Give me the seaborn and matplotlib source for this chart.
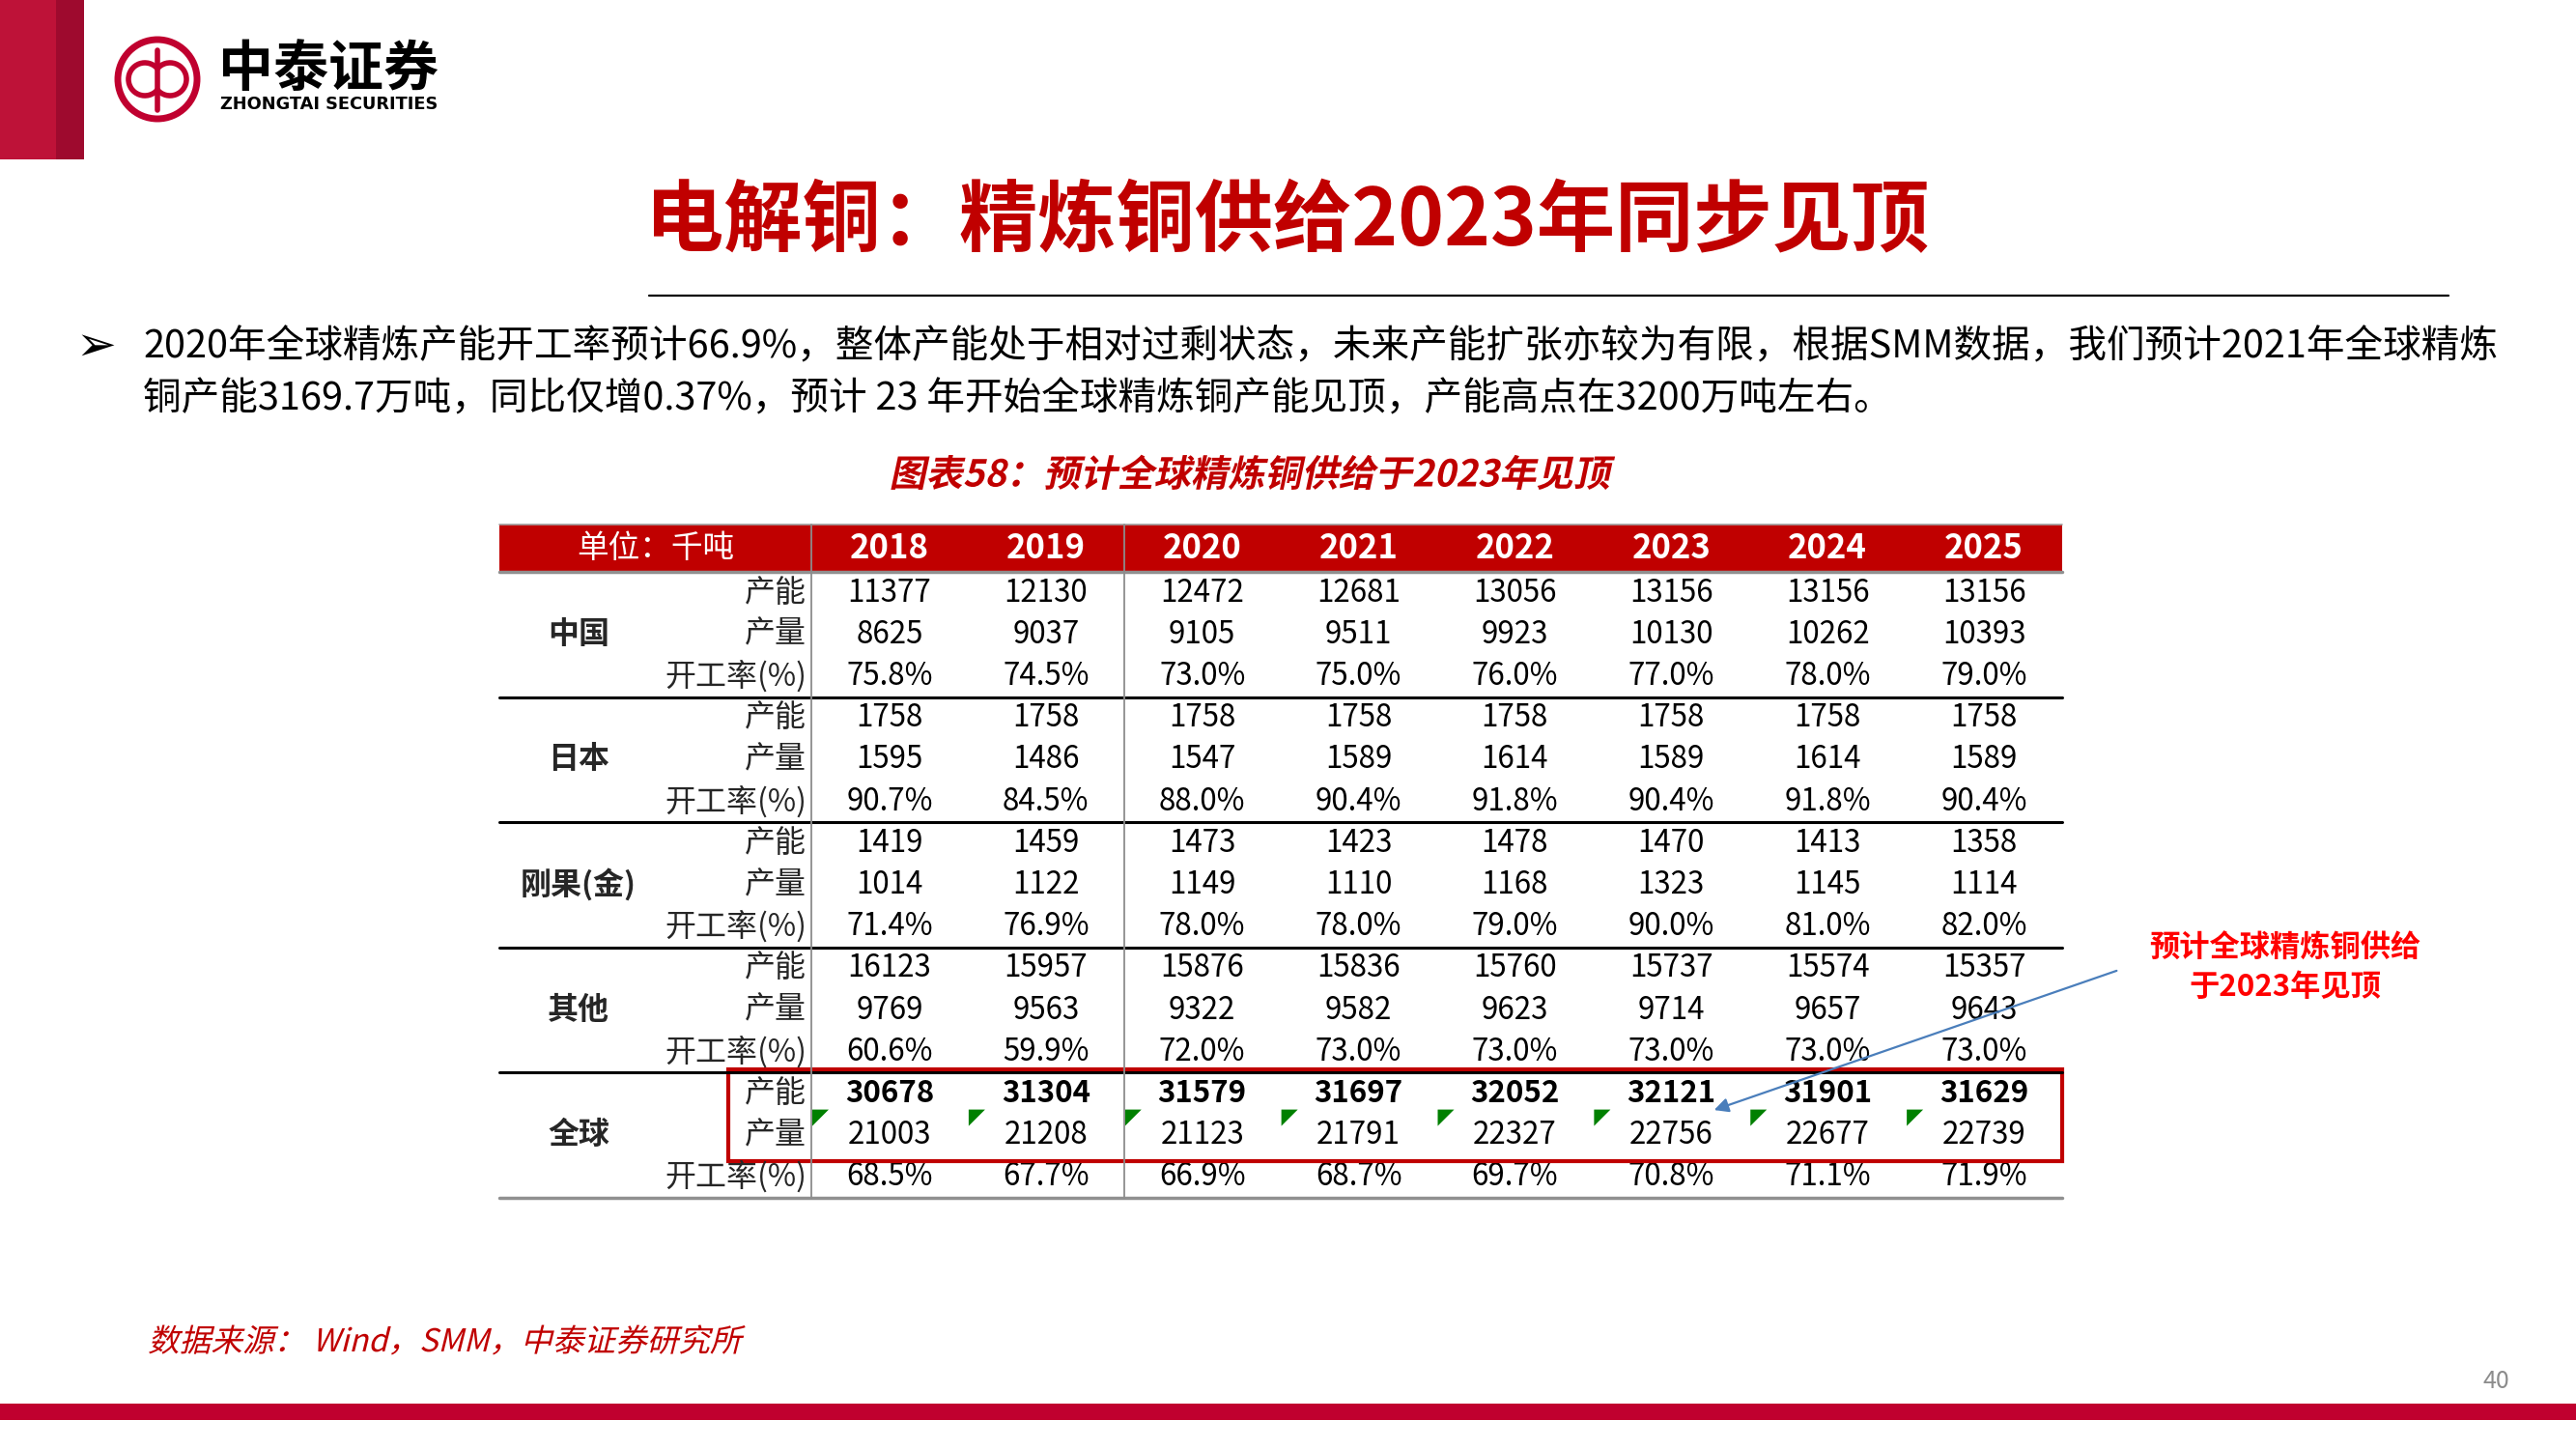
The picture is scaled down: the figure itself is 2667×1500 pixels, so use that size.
import matplotlib
matplotlib.use("Agg")
import matplotlib.pyplot as plt
from matplotlib.colors import ListedColormap
from matplotlib.patches import Rectangle, Polygon, Circle, Arc
from matplotlib.transforms import Affine2D
import matplotlib.patheffects as pe
import numpy as np
import pandas as pd
import seaborn as sns

# ---- data ----
years = ["2018", "2019", "2020", "2021", "2022", "2023", "2024", "2025"]
regions = ["中国", "日本", "刚果(金)", "其他", "全球"]
metrics = ["产能", "产量", "开工率(%)"]

china_cap = [11377, 12130, 12472, 12681, 13056, 13156, 13156, 13156]
china_out = [8625, 9037, 9105, 9511, 9923, 10130, 10262, 10393]
china_rate = [75.8, 74.5, 73.0, 75.0, 76.0, 77.0, 78.0, 79.0]

japan_cap = [1758, 1758, 1758, 1758, 1758, 1758, 1758, 1758]
japan_out = [1595, 1486, 1547, 1589, 1614, 1589, 1614, 1589]
japan_rate = [90.7, 84.5, 88.0, 90.4, 91.8, 90.4, 91.8, 90.4]

congo_cap = [1419, 1459, 1473, 1423, 1478, 1470, 1413, 1358]
congo_out = [1014, 1122, 1149, 1110, 1168, 1323, 1145, 1114]
congo_rate = [71.4, 76.9, 78.0, 78.0, 79.0, 90.0, 81.0, 82.0]

other_cap = [16123, 15957, 15876, 15836, 15760, 15737, 15574, 15357]
other_out = [9769, 9563, 9322, 9582, 9623, 9714, 9657, 9643]
other_rate = [60.6, 59.9, 72.0, 73.0, 73.0, 73.0, 73.0, 73.0]

world_cap = [30678, 31304, 31579, 31697, 32052, 32121, 31901, 31629]
world_out = [21003, 21208, 21123, 21791, 22327, 22756, 22677, 22739]
world_rate = [68.5, 67.7, 66.9, 68.7, 69.7, 70.8, 71.1, 71.9]

title = "电解铜：精炼铜供给2023年同步见顶"
bullet_1 = "2020年全球精炼产能开工率预计66.9%，整体产能处于相对过剩状态，未来产能扩张亦较为有限，根据SMM数据，我们预计2021年全球精炼"
bullet_2 = "铜产能3169.7万吨，同比仅增0.37%，预计 23 年开始全球精炼铜产能见顶，产能高点在3200万吨左右。"
caption = "图表58：预计全球精炼铜供给于2023年见顶"
note = "预计全球精炼铜供给\n于2023年见顶"
source = "数据来源： Wind，SMM，中泰证券研究所"


class Slant(pe.AbstractPathEffect):
    """CJK フォントに斜体がないので、文字列を傾けて描く"""

    def __init__(self, deg=12):
        super().__init__()
        self.deg = deg

    def draw_path(self, renderer, gc, tpath, affine, rgbFace=None):
        x0, y0 = affine.transform((0, 0))
        sk = Affine2D().translate(-x0, -y0).skew_deg(self.deg, 0).translate(x0, y0)
        renderer.draw_path(gc, tpath, affine + sk, rgbFace)


# ---- table frame ----
blocks = [
    (china_cap, china_out, china_rate),
    (japan_cap, japan_out, japan_rate),
    (congo_cap, congo_out, congo_rate),
    (other_cap, other_out, other_rate),
    (world_cap, world_out, world_rate),
]
rows, labels = [], []
for cap, out, rate in blocks:
    rows += [cap, out, rate]
    labels += [[str(v) for v in cap], [str(v) for v in out],
               [f"{v:.1f}%" for v in rate]]
values = pd.DataFrame(rows, columns=years)
labels = np.array(labels)

sns.set_theme(style="white")
plt.rcParams["font.family"] = ["Noto Sans CJK SC", "DejaVu Sans"]

W, H = 2667, 1500
fig = plt.figure(figsize=(W / 100, H / 100), dpi=100)

RED = "#C00000"
CRIMSON = "#C0002F"

# table geometry (pixels)
tab_l, tab_r = 517, 2135
lab_r = 840
head_t, head_b = 543, 592
body_b = 1240
n_rows = len(values)
row_h = (body_b - head_b) / n_rows
col_w = (tab_r - lab_r) / len(years)

# body cells via seaborn heatmap
hax = fig.add_axes([lab_r / W, 1 - body_b / H, (tab_r - lab_r) / W, (body_b - head_b) / H])
sns.heatmap(np.zeros(values.shape), ax=hax, cmap=ListedColormap(["white"]), cbar=False,
            annot=labels, fmt="", annot_kws=dict(fontsize=22.5, color="black"),
            xticklabels=False, yticklabels=False)
for k, t in enumerate(hax.texts):
    if k // len(years) == 12:
        t.set_fontweight("bold")

# page overlay
ax = fig.add_axes([0, 0, 1, 1])
ax.set_xlim(0, W)
ax.set_ylim(H, 0)
ax.axis("off")
ax.set_zorder(3)
ax.patch.set_alpha(0)

# header band / logo
ax.add_patch(Rectangle((0, 0), 58, 165, color="#BE1238", lw=0))
ax.add_patch(Rectangle((58, 0), 29, 165, color="#9E0A2E", lw=0))
ax.add_patch(Circle((163, 82), 41, fill=False, ec="#C0002F", lw=5))
ax.add_patch(Arc((150, 82), 34, 34, theta1=40, theta2=320, ec="#C0002F", lw=4))
ax.add_patch(Arc((176, 82), 34, 34, theta1=220, theta2=500, ec="#C0002F", lw=4))
ax.plot([163, 163], [52, 114], color="#C0002F", lw=4)
ax.text(226, 72, "中泰证券", fontsize=41, fontweight="bold", ha="left", va="center", color="black")
ax.text(228, 108, "ZHONGTAI SECURITIES", fontsize=12.8, fontweight="bold", ha="left", va="center",
        color="black", family=["DejaVu Sans"])

# title
ax.text(1333, 230, title, fontsize=58.5, fontweight="bold", color=RED, ha="center", va="center")
ax.plot([672, 2535], [306, 306], color="black", lw=1.6)

# bullet text
ax.text(99, 359, "➢", fontsize=36, ha="center", va="center", family=["DejaVu Sans"], color="black")
ax.text(148, 359, bullet_1, fontsize=28.5, ha="left", va="center", color="black")
ax.text(148, 413, bullet_2, fontsize=28.5, ha="left", va="center", color="black")

# caption
ax.text(1294, 492, caption, fontsize=27.5, fontweight="bold", color=RED,
        ha="center", va="center", path_effects=[Slant(12)])

# table header
ax.add_patch(Rectangle((tab_l, head_t), tab_r - tab_l, head_b - head_t, color=RED, lw=0))
ax.text((tab_l + lab_r) / 2, (head_t + head_b) / 2, "单位：千吨", fontsize=23.5, color="white",
        ha="center", va="center")
for i, y in enumerate(years):
    ax.text(lab_r + col_w * (i + 0.5), (head_t + head_b) / 2, y, fontsize=25, fontweight="bold",
            color="white", ha="center", va="center")
ax.plot([tab_l, tab_r], [head_t, head_t], color="#A0A0A0", lw=1.2)
ax.plot([tab_l, tab_r], [head_b, head_b], color="#909090", lw=2.5)

# row labels
for g, reg in enumerate(regions):
    top = head_b + g * 3 * row_h
    ax.text(599, top + 1.5 * row_h, reg, fontsize=23, fontweight="bold", ha="center", va="center")
    for m, met in enumerate(metrics):
        ax.text(835, top + (m + 0.5) * row_h, met, fontsize=23, ha="right", va="center")
    if g > 0:
        ax.plot([tab_l, tab_r], [top, top], color="black", lw=2.2)
ax.plot([tab_l, tab_r], [body_b, body_b], color="#909090", lw=2.5)

# vertical separators
for xv in [lab_r, lab_r + 2 * col_w]:
    ax.plot([xv, xv], [head_t, body_b], color="#8C8C8C", lw=1.3)

# green markers on world output row
out_top = head_b + 13 * row_h - 5
for i in range(len(years)):
    xl = lab_r + col_w * i + 1
    ax.add_patch(Polygon([(xl, out_top), (xl + 17, out_top), (xl, out_top + 17)],
                         closed=True, color="#008000", lw=0))

# red highlight box
box_t = head_b + 12 * row_h - 3
box_b = head_b + 14 * row_h + 5
ax.add_patch(Rectangle((754, box_t), tab_r - 754, box_b - box_t, fill=False, ec="#C00000", lw=3))

# annotation
ax.text(2366, 1002, note, fontsize=22.5, fontweight="bold", color="#FF0000", ha="center",
        va="center", linespacing=1.3)
ax.annotate("", xy=(1772, 1150), xytext=(2194, 1004),
            arrowprops=dict(arrowstyle="-|>", color="#4A7EBB", lw=1.6, mutation_scale=22))

# source + footer
ax.text(153, 1390, source, fontsize=23.5, color=RED, ha="left", va="center",
        path_effects=[Slant(14)])
ax.text(2584, 1430, "40", fontsize=18, color="#8C8C8C", ha="center", va="center")
ax.add_patch(Rectangle((0, 1453), W, 17, color=CRIMSON, lw=0))

fig.savefig("out.png", dpi=100, facecolor="white")
